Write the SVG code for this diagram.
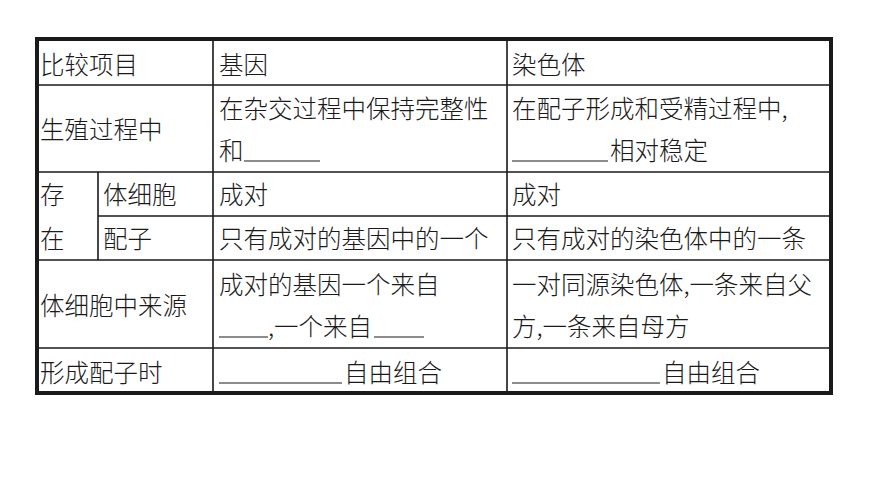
<svg xmlns="http://www.w3.org/2000/svg" width="870" height="489" viewBox="0 0 870 489">
<style>
text{font-family:"Noto Sans CJK SC","Noto Sans CJK JP",sans-serif;font-size:24.5px;font-weight:300;fill:#1a1a1a}
.g{stroke:#1a1a1a;stroke-width:1.6;fill:none}
.u{stroke:#1a1a1a;stroke-width:1.2}
</style>
<rect width="870" height="489" fill="#fff"/>
<g id="grid">
<path class="g" d="M36 85H832M36 172H832M98 216H832M36 260H832M36 348H832M98 172V260M213 38V394M507 38V394"/>
<rect x="37" y="39" width="794" height="354" fill="none" stroke="#1a1a1a" stroke-width="4"/>
</g>
<g id="header"><text x="40" y="74">比较项目</text><text x="219" y="74">基因</text><text x="512" y="74">染色体</text></g>
<g id="row1"><text x="40" y="139">生殖过程中</text>
<text x="219" y="118">在杂交过程中保持完整性</text><text x="219" y="160">和</text><line class="u" x1="244" y1="161" x2="320" y2="161"/>
<text x="512" y="118">在配子形成和受精过程中,</text><line class="u" x1="512" y1="161" x2="608" y2="161"/><text x="610" y="160">相对稳定</text></g>
<g id="row2"><text x="40" y="204">存</text><text x="40" y="248">在</text>
<text x="103" y="204">体细胞</text><text x="219" y="204">成对</text><text x="512" y="204">成对</text>
<text x="103" y="248">配子</text><text x="219" y="248">只有成对的基因中的一个</text><text x="512" y="248">只有成对的染色体中的一条</text></g>
<g id="row3"><text x="40" y="315">体细胞中来源</text>
<text x="219" y="294">成对的基因一个来自</text><line class="u" x1="219" y1="337" x2="268" y2="337"/><text x="268" y="336">,一个来自</text><line class="u" x1="374" y1="337" x2="424" y2="337"/>
<text x="512" y="294">一对同源染色体,一条来自父</text><text x="512" y="336">方,一条来自母方</text></g>
<g id="row4"><text x="40" y="382">形成配子时</text>
<line class="u" x1="219" y1="383" x2="342" y2="383"/><text x="344" y="382">自由组合</text>
<line class="u" x1="512" y1="383" x2="660" y2="383"/><text x="662" y="382">自由组合</text></g>
</svg>
